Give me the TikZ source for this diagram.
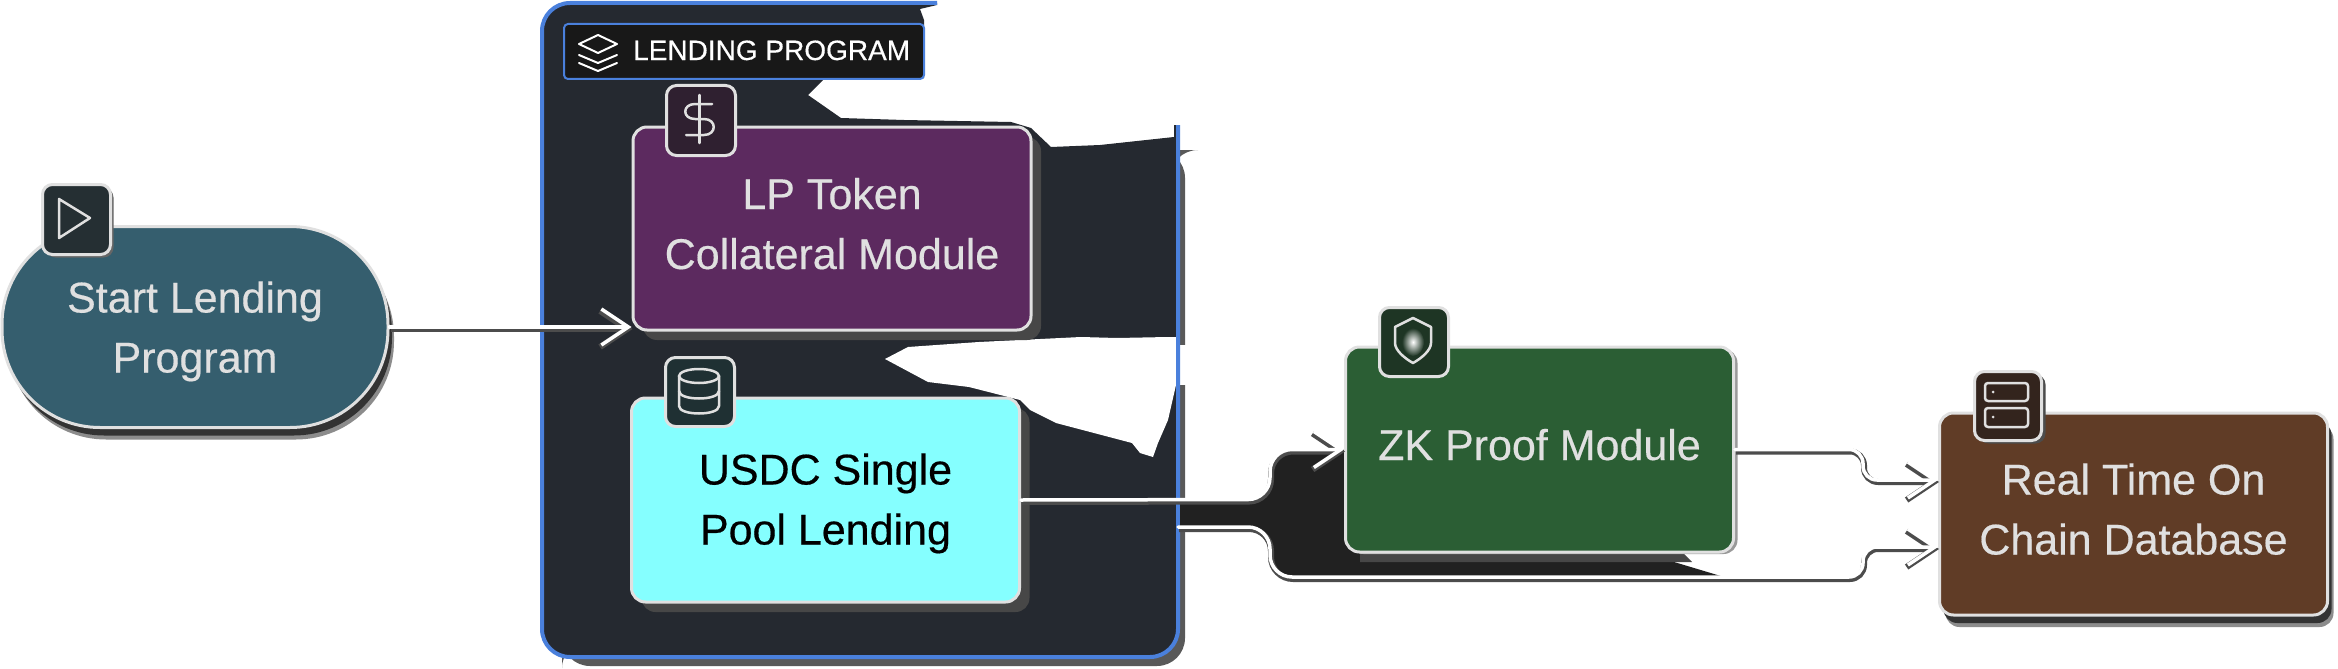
\documentclass[tikz,border=0pt]{standalone}
\usepackage{fontspec}
\setmainfont[FakeBold=0.4]{Liberation Sans}
\usetikzlibrary{arrows.meta,shadows}
\definecolor{grp}{HTML}{252930}
\definecolor{grpblue}{HTML}{4A80DC}
\definecolor{edge}{HTML}{E0E0E0}
\definecolor{cstart}{HTML}{355E6E}
\definecolor{cpurple}{HTML}{5C2A5F}
\definecolor{ccyan}{HTML}{85FFFF}
\definecolor{cgreen}{HTML}{2B5E34}
\definecolor{cbrown}{HTML}{603C26}
\definecolor{ictitle}{HTML}{181818}
\definecolor{icstart}{HTML}{252F33}
\definecolor{icpurple}{HTML}{2F2030}
\definecolor{iccyan}{HTML}{1F3033}
\definecolor{icgreen}{HTML}{1E3524}
\definecolor{icbrown}{HTML}{33241D}
\newcommand{\shiftline}[2]{\raisebox{#1}[32pt][9pt]{#2}}
\tikzset{
  x=1pt,y=-1pt,
  modbox/.style={draw=edge,line width=3pt,rounded corners=14pt,text=edge,align=center,inner sep=0pt,
    font=\fontsize{43}{60}\selectfont},
  softshadow/.style={general shadow={fill=black!45,shadow xshift=6pt,shadow yshift=-12pt},
    general shadow={fill=black!80,shadow xshift=4pt,shadow yshift=-8pt}},
  flatshadow/.style={general shadow={fill=black!72,shadow xshift=10pt,shadow yshift=-10pt}},
  iconbox/.style={draw=edge,line width=3pt,rounded corners=10pt,inner sep=0pt,anchor=north west},
  glyph/.style={draw=edge,line width=2.5pt,line cap=round,line join=round},
  conn/.style={draw=white,line width=3.5pt,line cap=round,
    -{Straight Barb[length=27pt,width=36pt,line width=3.5pt]},
    preaction={draw=black!70,line width=6pt,-{Straight Barb[length=27pt,width=36pt,line width=6pt]},
      transform canvas={xshift=1pt,yshift=-2pt}}},
}
\begin{document}
\begin{tikzpicture}
\useasboundingbox (0,0) rectangle (2338,669);
\fill[white] (0,0) rectangle (2338,669);
% group shadow
\fill[black!65,rounded corners=28pt] (1170,150) -- (1185,150) -- (1185,666) -- (562,666) -- (562,640) -- (1170,640) -- cycle;
\fill[white] (1160,345) rectangle (1190,385);
% group body with its torn outline
\fill[grp,rounded corners=28pt] (937,3) -- (542,3) -- (542,657) -- (1178,657) -- (1178,600) [sharp corners] -- (1178,125) -- (1174,125) -- (1174,137) -- (1100,145) -- (1051,147) -- (1031,128)
  -- (1011,122) -- (904,120) -- (841,118) -- (808,95) -- (823,80) -- (924,78) -- (924,20) -- (920,9) -- (937,5) -- cycle;
\fill[white] (885,359) -- (908,347) -- (979,342) -- (1081,337) -- (1117,338) -- (1168,337) -- (1176,337) -- (1176,385)
  -- (1168,420) -- (1158,443) -- (1153,457) -- (1140,453) -- (1132,443) -- (1056,423) -- (1030,410) -- (1020,400)
  -- (969,387) -- (928,382) -- cycle;
\draw[grpblue,line width=4pt,rounded corners=28pt] (937,3) -- (542,3) -- (542,657) -- (1178,657) -- (1178,125);
% dark area between the connectors
\fill[black!87] (1180,499) -- (1245,499) .. controls (1262,499) and (1270,490) .. (1270,471)
  .. controls (1270,458) and (1278,449) .. (1292,449) -- (1400,449) -- (1400,540) -- (1674,562) -- (1724,577) -- (1292,577)
  .. controls (1278,577) and (1270,568) .. (1270,549) .. controls (1270,536) and (1262,527) .. (1245,527) -- (1180,527) -- cycle;
\fill[black!72] (1360,550) -- (1680,550) -- (1692,562) -- (1360,562) -- cycle;
% title
\node[draw=grpblue,fill=ictitle,line width=2pt,rounded corners=4pt,minimum width=360pt,minimum height=55pt,anchor=north west,inner sep=0pt]
  (title) at (563,23) {};
\node[text=white,font=\fontsize{28}{34}\selectfont,anchor=base west,inner sep=0pt] (titletext) at (633,60) {LENDING PROGRAM};
\draw[glyph,draw=white,line width=2pt] (598,35) -- (617,44) -- (598,53) -- (579,44) -- cycle;
\draw[glyph,draw=white,line width=2pt] (579,55) -- (598,63) -- (617,55);
\draw[glyph,draw=white,line width=2pt] (579,63) -- (598,71) -- (617,63);
% modules
\node[modbox,fill=cstart,rounded corners=98pt,minimum width=386pt,minimum height=201pt,softshadow] (start) at (195,327) {\shiftline{-4pt}{Start Lending}\\\shiftline{-4pt}{Program}};
\node[modbox,fill=cpurple,minimum width=398pt,minimum height=203pt,flatshadow] (lp) at (832,228.5) {\shiftline{1pt}{LP Token}\\\shiftline{1pt}{Collateral Module}};
\node[modbox,fill=ccyan,text=black,minimum width=388pt,minimum height=204pt,flatshadow] (usdc) at (825.5,500) {\shiftline{-3pt}{USDC Single}\\\shiftline{-3pt}{Pool Lending}};
\node[modbox,fill=cgreen,minimum width=388pt,minimum height=205pt,general shadow={fill=black!40,shadow xshift=4pt,shadow yshift=-2pt}] (zk) at (1539.5,449.5) {\shiftline{1pt}{ZK Proof Module}};
\node[modbox,fill=cbrown,minimum width=388pt,minimum height=202pt,softshadow] (brown) at (2133.5,514) {\shiftline{1pt}{Real Time On}\\\shiftline{1pt}{Chain Database}};
% connector ends
\coordinate (lpin) at (start.east -| lp.west);
\coordinate (groupout) at (1178,527);
\coordinate (brownA) at ([yshift=34pt]brown.west);
\coordinate (brownB) at ([yshift=-33pt]brown.west);
\draw[conn] (start.east) -- (lpin);
\draw[conn,rounded corners=22pt] (usdc.east) -- (1270,499.5) -- (1270,449.5) -- (zk.west);
\draw[conn,rounded corners=14pt] (zk.east) -- (1863,449.5) -- (1863,480) -- (brownA);
\draw[conn,rounded corners=22pt] (groupout) -- (1270,527) -- (1270,577) [rounded corners=14pt] -- (1863,577) -- (1863,547) -- (brownB);
% icons
\node[iconbox,fill=icstart,minimum width=68pt,minimum height=70pt,general shadow={fill=black!60,shadow xshift=3pt,shadow yshift=-3pt}] (icstartbox) at (41,183) {};
\draw[glyph] (59,199) -- (90,218) -- (59,238) -- cycle;
\node[iconbox,fill=icpurple,minimum width=69pt,minimum height=70pt] (iclp) at (665,84) {};
\draw[glyph] (699.5,95) -- (699.5,143);
\draw[glyph] (712,104) -- (695,104) .. controls (682,104) and (682,119) .. (695,119) -- (704,119) .. controls (717,119) and (717,135) .. (704,135) -- (686,135);
\node[iconbox,fill=iccyan,minimum width=69pt,minimum height=69pt] (icusdc) at (664,356) {};
\draw[glyph] (699,376) ellipse [x radius=20,y radius=7];
\draw[glyph] (679,376) -- (679,406) .. controls (679,416) and (719,416) .. (719,406) -- (719,376);
\draw[glyph] (679,391) .. controls (679,401) and (719,401) .. (719,391);
\node[iconbox,fill=icgreen,minimum width=69pt,minimum height=69pt] (iczk) at (1378,306) {};
\shade[inner color=white,outer color=icgreen] (1413,342) ellipse [x radius=11,y radius=14];
\draw[glyph] (1413,318) -- (1431,327) -- (1431,343) .. controls (1431,350) and (1422,358) .. (1413,363) .. controls (1404,358) and (1395,350) .. (1395,343) -- (1395,327) -- cycle;
\node[iconbox,fill=icbrown,minimum width=67pt,minimum height=69pt,general shadow={fill=black!70,shadow xshift=4pt,shadow yshift=-3pt}] (icbr) at (1973,370) {};
\draw[glyph,rounded corners=3pt] (1985,383) rectangle (2028,401);
\draw[glyph,rounded corners=3pt] (1985,408) rectangle (2028,427);
\fill[edge] (1993,392) circle (1.5);
\fill[edge] (1993,417) circle (1.5);
\end{tikzpicture}
\end{document}
